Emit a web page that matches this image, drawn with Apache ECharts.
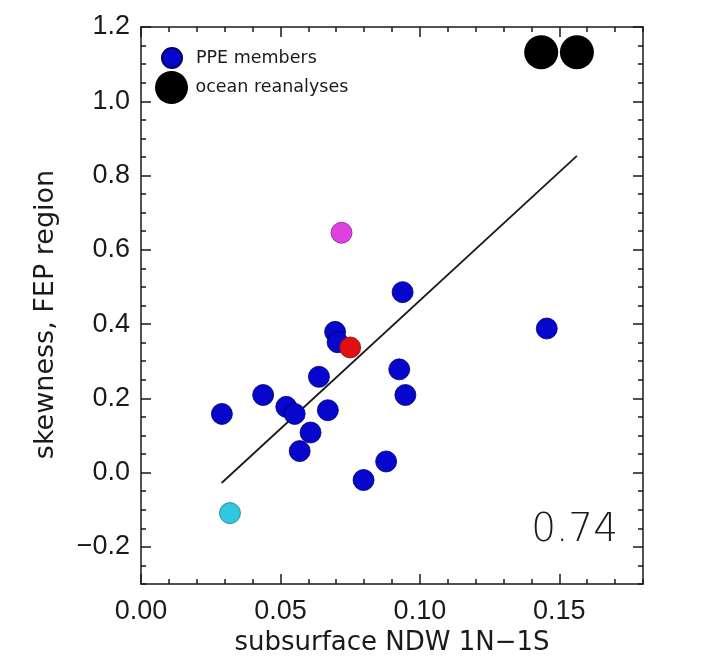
<!DOCTYPE html>
<html>
<head>
<meta charset="utf-8">
<script src="https://cdn.jsdelivr.net/npm/echarts@6/dist/echarts.min.js"></script>
<style>
  html, body { margin: 0; padding: 0; background: #fff; }
  #chart { width: 717px; height: 660px; }
</style>
</head>
<body>
<div id="chart"></div>
<script>
// PPE members (blue)
var ppeX = [0.0938, 0.1455, 0.0696, 0.0705, 0.0926, 0.0638, 0.0438, 0.0948,
            0.0290, 0.0521, 0.0551, 0.0670, 0.0608, 0.0569, 0.0879, 0.0798];
var ppeY = [0.486, 0.388, 0.379, 0.351, 0.278, 0.258, 0.209, 0.209,
            0.158, 0.177, 0.158, 0.168, 0.108, 0.058, 0.030, -0.020];
// highlighted members
var magentaX = [0.0719], magentaY = [0.646];
var redX = [0.0750], redY = [0.337];
var cyanX = [0.0319], cyanY = [-0.109];
// ocean reanalyses (black)
var oceanX = [0.1435, 0.1563];
var oceanY = [1.132, 1.132];
// regression line end points
var fitX = [0.0289, 0.1563];
var fitY = [-0.028, 0.853];
var corrText = '0.74';

var xTicks = [0, 0.05, 0.10, 0.15];
var xTickLabels = ['0.00', '0.05', '0.10', '0.15'];
var yTicks = [-0.2, 0, 0.2, 0.4, 0.6, 0.8, 1.0, 1.2];
var yTickLabels = ['\u22120.2', '0.0', '0.2', '0.4', '0.6', '0.8', '1.0', '1.2'];

function pairs (xs, ys) {
  return xs.map(function (x, i) { return [x, ys[i]]; });
}
function labelFor (ticks, labels) {
  return function (v) {
    for (var i = 0; i < ticks.length; i++) {
      if (Math.abs(ticks[i] - v) < 1e-9) return labels[i];
    }
    return '';
  };
}

var ink = '#1a1a1a';
var lineStyle = { color: ink, width: 1.5 };

function majorX (pos, showLabel) {
  return {
    type: 'value', position: pos, min: 0, max: 0.18,
    axisLine: { show: true, onZero: false, lineStyle: lineStyle },
    axisTick: { show: true, inside: true, length: 10, customValues: xTicks, lineStyle: lineStyle },
    axisLabel: {
      show: showLabel, customValues: xTicks, margin: 14,
      formatter: labelFor(xTicks, xTickLabels),
      fontFamily: 'Liberation Sans', fontSize: 27, color: ink
    },
    splitLine: { show: false }, minorTick: { show: false }
  };
}
function minorX (pos) {
  return {
    type: 'value', position: pos, min: 0, max: 0.18, interval: 0.01,
    axisLine: { show: false, onZero: false },
    axisTick: { show: true, inside: true, length: 5, lineStyle: lineStyle },
    axisLabel: { show: false }, splitLine: { show: false }
  };
}
function majorY (pos, showLabel) {
  return {
    type: 'value', position: pos, min: -0.3, max: 1.2,
    axisLine: { show: true, onZero: false, lineStyle: lineStyle },
    axisTick: { show: true, inside: true, length: 10, customValues: yTicks, lineStyle: lineStyle },
    axisLabel: {
      show: showLabel, customValues: yTicks, margin: 11,
      formatter: labelFor(yTicks, yTickLabels),
      fontFamily: 'Liberation Sans', fontSize: 27, color: ink
    },
    splitLine: { show: false }, minorTick: { show: false }
  };
}
function minorY (pos) {
  return {
    type: 'value', position: pos, min: -0.3, max: 1.2, interval: 0.05,
    axisLine: { show: false, onZero: false },
    axisTick: { show: true, inside: true, length: 5, lineStyle: lineStyle },
    axisLabel: { show: false }, splitLine: { show: false }
  };
}

var xBottom = majorX('bottom', true);
xBottom.name = 'subsurface NDW 1N\u22121S';
xBottom.nameLocation = 'middle';
xBottom.nameGap = 46;
xBottom.nameTextStyle = { fontFamily: 'DejaVu Sans', fontSize: 26, color: ink };

var yLeft = majorY('left', true);
yLeft.name = 'skewness, FEP region';
yLeft.nameLocation = 'middle';
yLeft.nameGap = 82;
yLeft.nameTextStyle = { fontFamily: 'DejaVu Sans', fontSize: 27, color: ink, padding: [0, 18, 0, 0] };

var legendText = { fontFamily: 'DejaVu Sans', fontSize: 17.5, color: ink };

var option = {
  animation: false,
  backgroundColor: '#fff',
  grid: { left: 141, right: 74, top: 27, bottom: 76, containLabel: false, outerBoundsMode: 'none' },
  title: {
    text: corrText, right: 99, top: 511, padding: 0,
    textStyle: { fontFamily: 'DejaVu Sans', fontSize: 39, fontWeight: 200, color: ink }
  },
  legend: [
    {
      data: [{ name: 'PPE members', icon: 'circle' }],
      left: 161, top: 47, padding: 0, itemWidth: 38, itemHeight: 20,
      selectedMode: false, textStyle: legendText
    },
    {
      data: [{ name: 'ocean reanalyses', icon: 'circle' }],
      left: 155, top: 71, padding: 0, itemWidth: 38, itemHeight: 33,
      selectedMode: false, textStyle: legendText
    }
  ],
  xAxis: [xBottom, minorX('bottom'), majorX('top', false), minorX('top')],
  yAxis: [yLeft, minorY('left'), majorY('right', false), minorY('right')],
  series: [
    {
      name: 'fit', type: 'line', data: pairs(fitX, fitY), z: 1,
      showSymbol: false, symbol: 'none', silent: true,
      lineStyle: { color: ink, width: 1.8 }
    },
    {
      name: 'PPE members', type: 'scatter', data: pairs(ppeX, ppeY), z: 2,
      symbolSize: 21,
      itemStyle: { color: '#0606cc', borderColor: '#00006a', borderWidth: 0.8, opacity: 1 }
    },
    {
      name: 'magenta member', type: 'scatter', data: pairs(magentaX, magentaY), z: 3,
      symbolSize: 21,
      itemStyle: { color: '#e040e0', borderColor: '#803080', borderWidth: 0.8, opacity: 1 }
    },
    {
      name: 'red member', type: 'scatter', data: pairs(redX, redY), z: 3,
      symbolSize: 21,
      itemStyle: { color: '#e01010', borderColor: '#801010', borderWidth: 0.8, opacity: 1 }
    },
    {
      name: 'cyan member', type: 'scatter', data: pairs(cyanX, cyanY), z: 3,
      symbolSize: 21,
      itemStyle: { color: '#30c8e0', borderColor: '#207a88', borderWidth: 0.8, opacity: 1 }
    },
    {
      name: 'ocean reanalyses', type: 'scatter', data: pairs(oceanX, oceanY), z: 3,
      symbolSize: 34,
      itemStyle: { color: '#000', borderColor: '#000', borderWidth: 0, opacity: 1 }
    }
  ]
};

var chart = echarts.init(document.getElementById('chart'), null, { renderer: 'canvas' });
chart.setOption(option);
</script>
</body>
</html>
